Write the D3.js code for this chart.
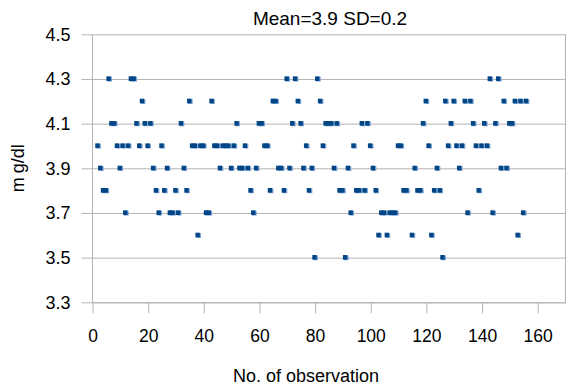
<!DOCTYPE html>
<html><head><meta charset="utf-8">
<script src="https://cdn.jsdelivr.net/npm/d3@7/dist/d3.min.js"></script>
<style>
body{margin:0;background:#fff}
svg{display:block}
text{font-family:"Liberation Sans",Arial,sans-serif;fill:#000}
</style>
</head><body>
<svg id="chart" width="566" height="390"></svg>
<script>
const chartTitle = "Mean=3.9 SD=0.2";
const xAxisTitle = "No. of observation";
const yAxisTitle = ["m", "g/dl"];
const xTickValues = [0, 20, 40, 60, 80, 100, 120, 140, 160];
const yTickValues = [3.3, 3.5, 3.7, 3.9, 4.1, 4.3, 4.5];

const observations = [
  2,3,4,5,6,7,8,9,10,11,
  12,13,14,15,16,17,18,19,20,21,
  22,23,24,25,26,27,28,29,30,31,
  32,33,34,35,36,37,38,39,40,41,
  42,43,44,45,46,47,48,49,50,51,
  52,53,54,55,56,57,58,59,60,61,
  62,63,64,65,66,67,68,69,70,71,
  72,73,74,75,76,77,78,79,80,81,
  82,83,84,85,86,87,88,89,90,91,
  92,93,94,95,96,97,98,99,100,101,
  102,103,104,105,106,107,108,109,110,111,
  112,113,
  115,116,117,118,119,120,121,122,123,124,
  125,126,127,128,129,130,131,132,133,134,
  135,136,137,138,139,140,141,142,143,144,
  145,146,147,148,149,150,151,152,153,154,155,156
];
const values = [
  4.0,3.9,3.8,3.8,4.3,4.1,4.1,4.0,3.9,4.0,
  3.7,4.0,4.3,4.3,4.1,4.0,4.2,4.1,4.0,4.1,
  3.9,3.8,3.7,4.0,3.8,3.9,3.7,3.7,3.8,3.7,
  4.1,3.9,3.8,4.2,4.0,4.0,3.6,4.0,4.0,3.7,
  3.7,4.2,4.0,4.0,3.9,4.0,4.0,4.0,3.9,4.0,
  4.1,3.9,3.9,4.0,3.9,3.8,3.7,3.9,4.1,4.1,
  4.0,4.0,3.8,4.2,4.2,3.9,3.9,3.8,4.3,3.9,
  4.1,4.3,4.2,4.1,3.9,4.0,3.8,3.9,3.5,4.3,
  4.2,4.0,4.1,4.1,4.1,3.9,4.1,3.8,3.8,3.5,
  3.9,3.7,4.0,3.8,3.8,4.1,3.8,4.1,4.0,3.9,
  3.8,3.6,3.7,3.7,3.6,3.7,3.7,3.7,4.0,4.0,
  3.8,3.8,
  3.6,3.9,3.8,3.8,4.1,4.2,4.0,3.6,3.8,3.9,
  3.8,3.5,4.2,4.0,4.1,4.2,4.0,3.9,4.0,4.2,
  3.7,4.2,4.1,4.0,3.8,4.0,4.1,4.0,4.3,3.7,
  4.1,4.3,3.9,4.2,3.9,4.1,4.1,4.2,3.6,4.2,3.7,4.2
];

const svg = d3.select("#chart");
const pL = 92.5, pR = 565.5, pT = 34.3, pB = 302.3;
const gridColor = "#b3b3b3";
const fontFam = '"Liberation Sans",Arial,sans-serif';

const x = d3.scaleLinear().domain([0, 170]).range([pL, pR]);
const y = d3.scaleLinear().domain([3.3, 4.5]).range([pB, pT]);

// horizontal gridlines + y tick labels
const yAxis = svg.append("g")
  .attr("transform", `translate(${pR},0)`)
  .call(d3.axisLeft(y).tickValues(yTickValues).tickSize(pR - pL + 11).tickPadding(11)
    .tickFormat(d3.format(".1f")));
yAxis.select(".domain").remove();
yAxis.selectAll(".tick line").attr("stroke", gridColor).attr("stroke-width", 1);
yAxis.selectAll(".tick text").style("font-size", "18px").attr("fill", "#000")
  .style("font-family", fontFam);

// x axis
const xAxis = svg.append("g")
  .attr("transform", `translate(0,${pB})`)
  .call(d3.axisBottom(x).tickValues(xTickValues).tickSize(11).tickPadding(16).tickSizeOuter(0));
xAxis.select(".domain").attr("stroke", gridColor);
xAxis.selectAll(".tick line").attr("stroke", gridColor);
xAxis.selectAll(".tick text").style("font-size", "17.5px").attr("fill", "#000")
  .style("font-family", fontFam);

// frame lines
svg.append("line").attr("x1", pL).attr("x2", pL).attr("y1", pT).attr("y2", pB)
  .attr("stroke", gridColor);
svg.append("line").attr("x1", pR).attr("x2", pR).attr("y1", pT).attr("y2", pB)
  .attr("stroke", gridColor);

// points
const pts = observations.map((o, i) => ({o, v: values[i]}));
const g = svg.append("g");
g.selectAll("rect.shade").data(pts).enter().append("rect")
  .attr("class", "shade")
  .attr("x", d => x(d.o) - 1.8).attr("y", d => y(d.v) - 2.2)
  .attr("width", 4.6).attr("height", 4.8).attr("fill", "#7aa2d4");
g.selectAll("rect.pt").data(pts).enter().append("rect")
  .attr("class", "pt")
  .attr("x", d => x(d.o) - 2.8).attr("y", d => y(d.v) - 2.6)
  .attr("width", 4.4).attr("height", 4.6).attr("fill", "#004586");

// titles
svg.append("text").attr("x", 330).attr("y", 25)
  .attr("text-anchor", "middle").style("font-size", "19px").text(chartTitle);
svg.append("text").attr("x", 306).attr("y", 382)
  .attr("text-anchor", "middle").style("font-size", "18px").text(xAxisTitle);
const yt = svg.append("text").attr("transform", `translate(24,${(pT + pB) / 2}) rotate(-90)`)
  .attr("text-anchor", "middle").style("font-size", "18px");
yt.append("tspan").text(yAxisTitle[0]);
yt.append("tspan").attr("dx", 4).text(yAxisTitle[1]);
</script>
</body></html>
